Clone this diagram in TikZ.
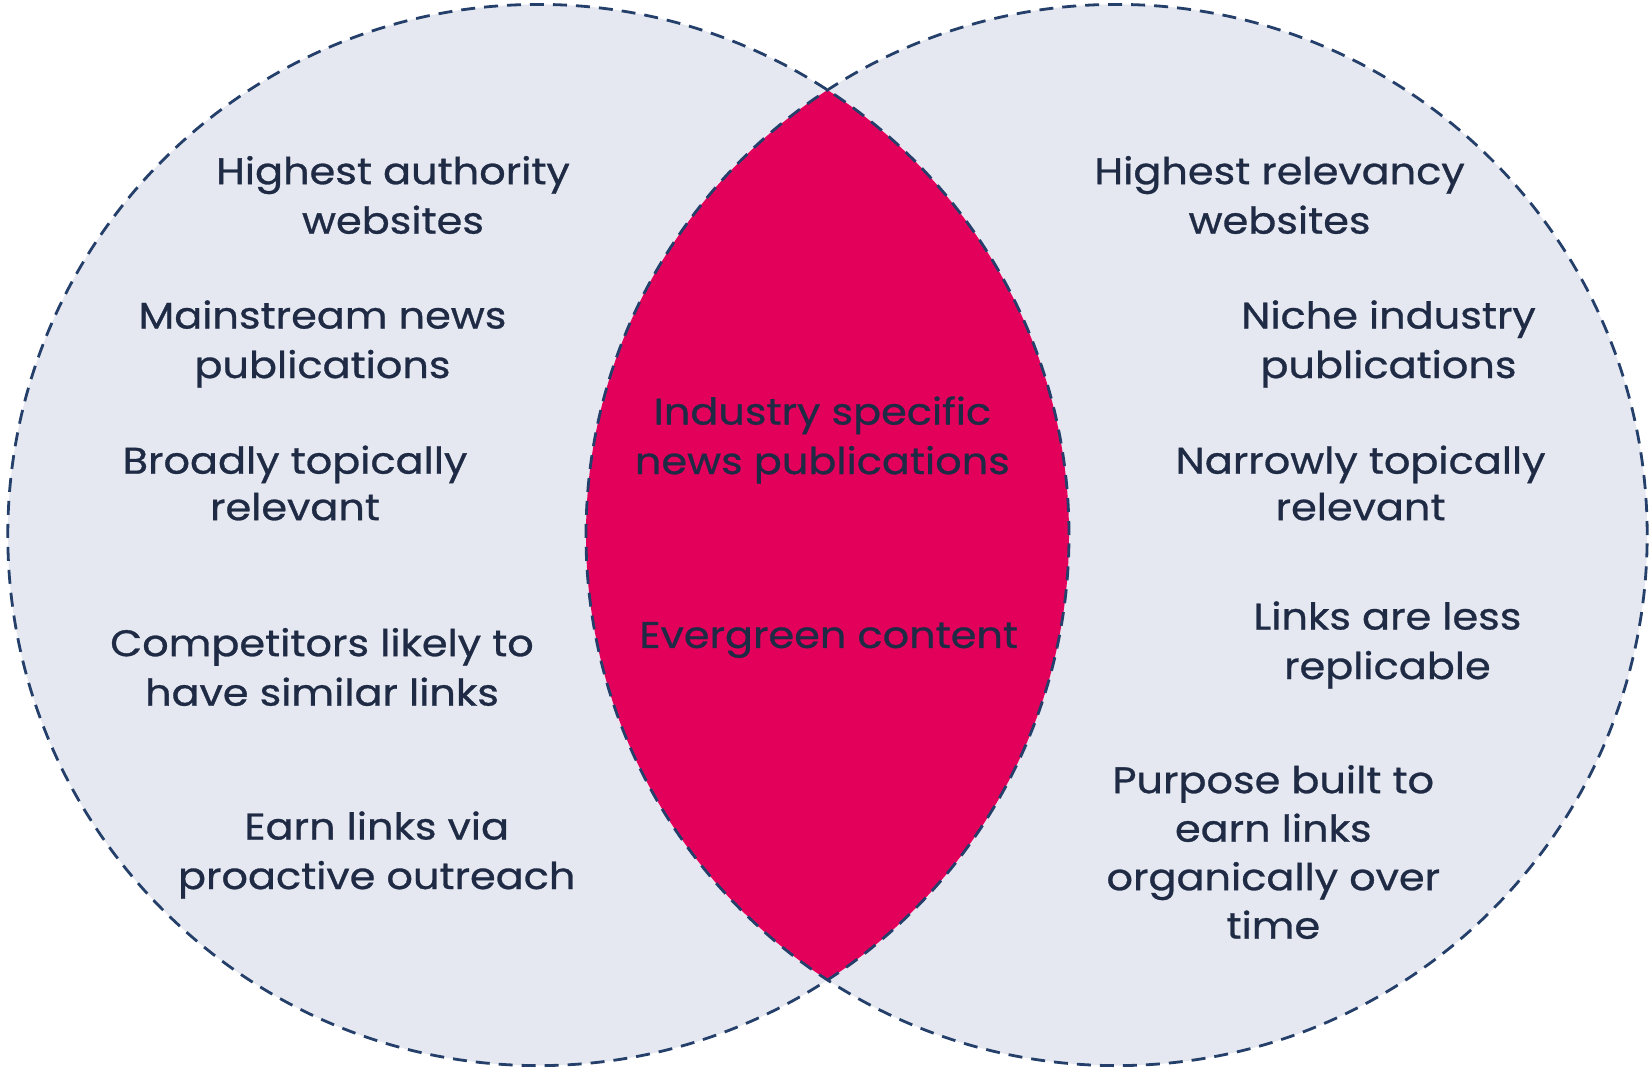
\documentclass[tikz,border=0pt]{standalone}
\usepackage{fontspec}
\setmainfont{Poppins}[FakeStretch=1.12,FakeBold=0.8]
\definecolor{circfill}{HTML}{E5E8F0}
\definecolor{lenspink}{HTML}{E3005B}
\definecolor{dashnavy}{HTML}{243F6A}
\definecolor{textnavy}{HTML}{1F2B45}
\begin{document}
\begin{tikzpicture}[x=1pt,y=-1pt,
  lbl/.style={align=center,text=textnavy,inner sep=0pt,font=\fontsize{37}{49.5}\selectfont},
  tight/.style={font=\fontsize{37}{46.5}\selectfont},
  mid/.style={font=\fontsize{37}{48.5}\selectfont},
  dashring/.style={draw=dashnavy,line width=2.8pt,dash pattern=on 14pt off 9pt}]
\useasboundingbox (0,0) rectangle (1650,1069);
\coordinate (cl) at (538.4,535);
\coordinate (cr) at (1116.6,535);
\fill[circfill] (cl) circle (530.6pt);
\fill[circfill] (cr) circle (530.6pt);
\begin{scope}
\clip (cl) circle (530.6pt);
\fill[lenspink] (cr) circle (530.6pt);
\end{scope}
\draw[dashring] (cl) circle (530.6pt);
\draw[dashring] (cr) circle (530.6pt);

\node[lbl] (l1) at (393,195) {Highest authority\\websites};
\node[lbl] (l2) at (322.5,344) {Mainstream news\\publications};
\node[lbl,tight] (l3) at (295,483) {Broadly topically\\relevant};
\node[lbl] (l4) at (322,667) {Competitors likely to\\have similar links};
\node[lbl] (l5) at (376.7,855) {Earn links via\\proactive outreach};

\node[lbl] (r1) at (1279.6,195) {Highest relevancy\\websites};
\node[lbl] (r2) at (1388.5,344) {Niche industry\\publications};
\node[lbl,tight] (r3) at (1360.6,483) {Narrowly topically\\relevant};
\node[lbl] (r4) at (1387.4,645) {Links are less\\replicable};
\node[lbl,mid] (r5) at (1273.3,852) {Purpose built to\\earn links\\organically over\\time};

\node[lbl] (c1) at (822.4,440) {Industry specific\\news publications};
\node[lbl] (c2) at (828.7,640) {Evergreen content};
\end{tikzpicture}
\end{document}
